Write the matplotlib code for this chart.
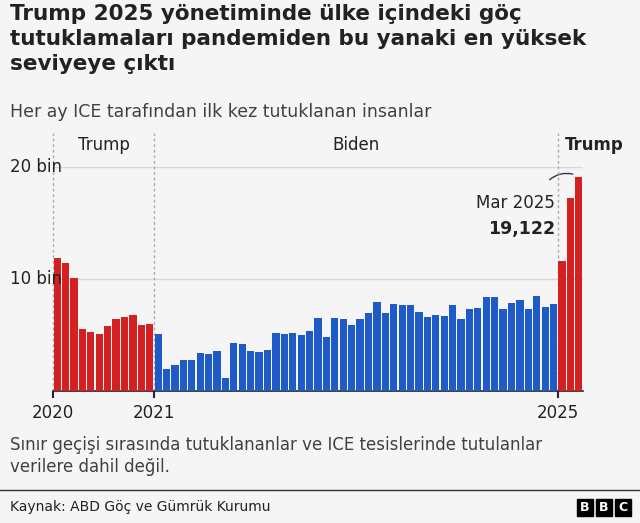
import matplotlib
matplotlib.use("Agg")
import matplotlib.pyplot as plt
from matplotlib.patches import FancyArrowPatch

months_2020 = [11.85, 11.4, 10.1, 5.5, 5.3, 5.05, 5.8, 6.45, 6.6, 6.75, 5.9, 6.0]
biden = [5.05, 1.95, 2.3, 2.8, 2.8, 3.4, 3.3, 3.6, 1.2, 4.3, 4.2, 3.6,
         3.45, 3.65, 5.2, 5.05, 5.15, 5.0, 5.4, 6.5, 4.8, 6.5, 6.45, 5.9,
         6.45, 6.95, 7.95, 7.0, 7.75, 7.7, 7.65, 7.05, 6.65, 6.75, 6.7, 7.7,
         6.45, 7.3, 7.45, 8.35, 8.35, 7.3, 7.9, 8.1, 7.3, 8.5, 7.5, 7.8]
months_2025 = [11.65, 17.25, 19.122]
values = [v * 1000 for v in months_2020 + biden + months_2025]
colors = ["#d42020"] * len(months_2020) + ["#1f5bc6"] * len(biden) + ["#d42020"] * len(months_2025)
xtick_pos = [-0.5, 11.5, 59.5]
xtick_labels = ["2020", "2021", "2025"]
ytick_vals = [10000, 20000]
ytick_labels = ["10 bin", "20 bin"]

BG = "#f5f5f5"
W, H = 640, 523
fig = plt.figure(figsize=(6.4, 5.23), dpi=100, facecolor=BG)
ax = fig.add_axes([53 / W, 1 - 391 / H, (583 - 53) / W, (391 - 167) / H], facecolor=BG)
x = list(range(len(values)))
ax.bar(x, values, width=0.86, color=colors, zorder=3)
ax.set_xlim(-0.5, len(values) - 0.5)
ax.set_ylim(0, 20000)
for s in ["top", "right", "left"]:
    ax.spines[s].set_visible(False)
ax.spines["bottom"].set_color("#222222")
ax.spines["bottom"].set_linewidth(1.2)
ax.set_yticks([])
for yv in ytick_vals:
    ax.axhline(yv, color="#d8d8d8", lw=1, zorder=1)
for yv, lab in zip(ytick_vals, ytick_labels):
    fig.text(10 / W, 1 - (391 - yv / 1000 * 11.2) / H, lab, fontsize=12, color="#222222",
             va="center", ha="left", family="DejaVu Sans", zorder=5)
ax.set_xticks(xtick_pos)
ax.set_xticklabels(xtick_labels, fontsize=12, color="#222222")
ax.tick_params(axis="x", length=5, width=1.5, color="#222244", pad=4)
for xp in xtick_pos:
    ax.plot([xp, xp], [0, 23000], ls=(0, (2, 2)), color="#aaaaaa", lw=1, clip_on=False, zorder=2)
ax.text(5.5, 22000, "Trump", ha="center", va="center", fontsize=12, color="#222222")
ax.text(35.5, 22000, "Biden", ha="center", va="center", fontsize=12, color="#222222")
ax.text(63.8, 22000, "Trump", ha="center", va="center", fontsize=12, color="#222222", weight="bold")
ax.text(59.2, 16000, "Mar 2025", ha="right", va="bottom", fontsize=12, color="#222222")
ax.text(59.2, 13700, "19,122", ha="right", va="bottom", fontsize=12.5, color="#222222", weight="bold")
arr = FancyArrowPatch((58.3, 18700), (61.6, 19300), connectionstyle="arc3,rad=-0.3",
                      arrowstyle="-", color="#333355", lw=1)
ax.add_patch(arr)

fig.text(10 / W, 1 - 4 / H, "Trump 2025 yönetiminde ülke içindeki göç\ntutuklamaları pandemiden bu yanaki en yüksek\nseviyeye çıktı",
         fontsize=15.5, weight="bold", color="#222222", va="top", ha="left", linespacing=1.3)
fig.text(10 / W, 1 - 112 / H, "Her ay ICE tarafından ilk kez tutuklanan insanlar", fontsize=12.5,
         color="#404040", va="center", ha="left")
fig.text(10 / W, 1 - 436 / H, "Sınır geçişi sırasında tutuklananlar ve ICE tesislerinde tutulanlar\nverilere dahil değil.",
         fontsize=12, color="#404040", va="top", ha="left", linespacing=1.25)
fig.add_artist(plt.Line2D([0, 1], [1 - 490 / H, 1 - 490 / H], color="#333333", lw=1))
fig.text(10 / W, 1 - 507 / H, "Kaynak: ABD Göç ve Gümrük Kurumu", fontsize=10, color="#222222",
         va="center", ha="left")
for i, ch in enumerate("BBC"):
    cx = (577 + i * 19) / W
    fig.add_artist(plt.Rectangle((cx, 1 - 516 / H), 16 / W, 17 / H, color="black", transform=fig.transFigure))
    fig.text(cx + 8 / W, 1 - 507.5 / H, ch, color="white", fontsize=9, weight="bold", ha="center", va="center")
fig.savefig("out.png", dpi=100, facecolor=BG)
